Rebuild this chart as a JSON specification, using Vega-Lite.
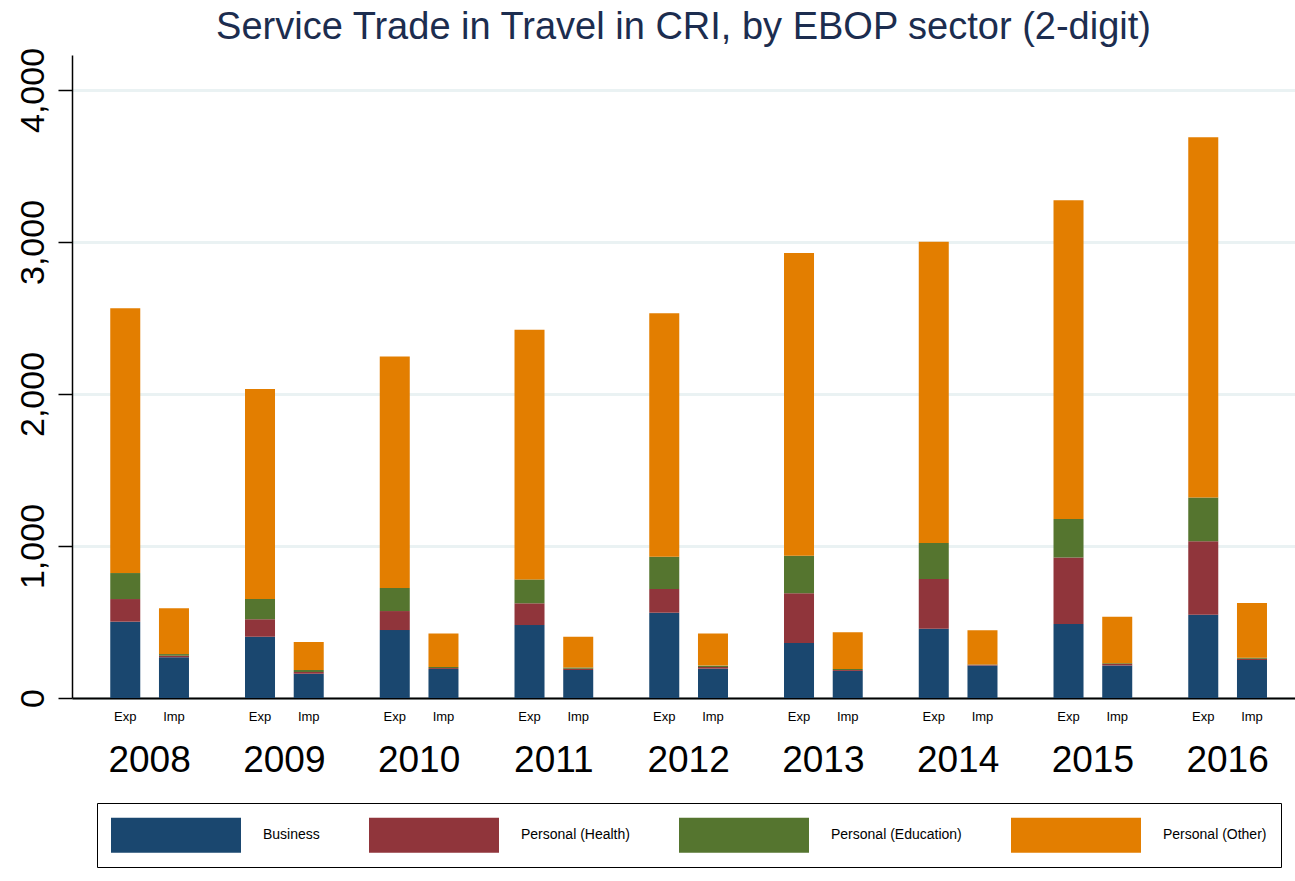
{
  "$schema": "https://vega.github.io/schema/vega-lite/v6.json",
  "width": 1223,
  "height": 643,
  "autosize": {"type": "none"},
  "padding": {"left": 72, "top": 55, "right": 0, "bottom": 183},
  "background": "white",
  "config": {"view": {"stroke": null}, "font": "Liberation Sans"},
  "title": {
    "text": "Service Trade in Travel in CRI, by EBOP sector (2-digit)",
    "fontSize": 38,
    "font": "Liberation Sans",
    "fontWeight": "normal",
    "color": "#1c2d4f",
    "anchor": "middle",
    "frame": "group",
    "offset": 0
  },
  "data": {
    "values": [
      {"year": "2008", "flow": "Exp", "sector": "Business", "k": 1, "value": 502},
      {"year": "2008", "flow": "Exp", "sector": "Personal (Health)", "k": 2, "value": 149},
      {"year": "2008", "flow": "Exp", "sector": "Personal (Education)", "k": 3, "value": 171},
      {"year": "2008", "flow": "Exp", "sector": "Personal (Other)", "k": 4, "value": 1742},
      {"year": "2008", "flow": "Imp", "sector": "Business", "k": 1, "value": 268},
      {"year": "2008", "flow": "Imp", "sector": "Personal (Health)", "k": 2, "value": 10},
      {"year": "2008", "flow": "Imp", "sector": "Personal (Education)", "k": 3, "value": 11},
      {"year": "2008", "flow": "Imp", "sector": "Personal (Other)", "k": 4, "value": 301},
      {"year": "2009", "flow": "Exp", "sector": "Business", "k": 1, "value": 403},
      {"year": "2009", "flow": "Exp", "sector": "Personal (Health)", "k": 2, "value": 115},
      {"year": "2009", "flow": "Exp", "sector": "Personal (Education)", "k": 3, "value": 133},
      {"year": "2009", "flow": "Exp", "sector": "Personal (Other)", "k": 4, "value": 1382},
      {"year": "2009", "flow": "Imp", "sector": "Business", "k": 1, "value": 160},
      {"year": "2009", "flow": "Imp", "sector": "Personal (Health)", "k": 2, "value": 11},
      {"year": "2009", "flow": "Imp", "sector": "Personal (Education)", "k": 3, "value": 13},
      {"year": "2009", "flow": "Imp", "sector": "Personal (Other)", "k": 4, "value": 184},
      {"year": "2010", "flow": "Exp", "sector": "Business", "k": 1, "value": 447},
      {"year": "2010", "flow": "Exp", "sector": "Personal (Health)", "k": 2, "value": 125},
      {"year": "2010", "flow": "Exp", "sector": "Personal (Education)", "k": 3, "value": 152},
      {"year": "2010", "flow": "Exp", "sector": "Personal (Other)", "k": 4, "value": 1522},
      {"year": "2010", "flow": "Imp", "sector": "Business", "k": 1, "value": 191},
      {"year": "2010", "flow": "Imp", "sector": "Personal (Health)", "k": 2, "value": 6},
      {"year": "2010", "flow": "Imp", "sector": "Personal (Education)", "k": 3, "value": 7},
      {"year": "2010", "flow": "Imp", "sector": "Personal (Other)", "k": 4, "value": 221},
      {"year": "2011", "flow": "Exp", "sector": "Business", "k": 1, "value": 480},
      {"year": "2011", "flow": "Exp", "sector": "Personal (Health)", "k": 2, "value": 143},
      {"year": "2011", "flow": "Exp", "sector": "Personal (Education)", "k": 3, "value": 157},
      {"year": "2011", "flow": "Exp", "sector": "Personal (Other)", "k": 4, "value": 1643},
      {"year": "2011", "flow": "Imp", "sector": "Business", "k": 1, "value": 184},
      {"year": "2011", "flow": "Imp", "sector": "Personal (Health)", "k": 2, "value": 9},
      {"year": "2011", "flow": "Imp", "sector": "Personal (Education)", "k": 3, "value": 7},
      {"year": "2011", "flow": "Imp", "sector": "Personal (Other)", "k": 4, "value": 203},
      {"year": "2012", "flow": "Exp", "sector": "Business", "k": 1, "value": 561},
      {"year": "2012", "flow": "Exp", "sector": "Personal (Health)", "k": 2, "value": 156},
      {"year": "2012", "flow": "Exp", "sector": "Personal (Education)", "k": 3, "value": 213},
      {"year": "2012", "flow": "Exp", "sector": "Personal (Other)", "k": 4, "value": 1601},
      {"year": "2012", "flow": "Imp", "sector": "Business", "k": 1, "value": 193},
      {"year": "2012", "flow": "Imp", "sector": "Personal (Health)", "k": 2, "value": 11},
      {"year": "2012", "flow": "Imp", "sector": "Personal (Education)", "k": 3, "value": 9},
      {"year": "2012", "flow": "Imp", "sector": "Personal (Other)", "k": 4, "value": 212},
      {"year": "2013", "flow": "Exp", "sector": "Business", "k": 1, "value": 362},
      {"year": "2013", "flow": "Exp", "sector": "Personal (Health)", "k": 2, "value": 327},
      {"year": "2013", "flow": "Exp", "sector": "Personal (Education)", "k": 3, "value": 247},
      {"year": "2013", "flow": "Exp", "sector": "Personal (Other)", "k": 4, "value": 1992},
      {"year": "2013", "flow": "Imp", "sector": "Business", "k": 1, "value": 178},
      {"year": "2013", "flow": "Imp", "sector": "Personal (Health)", "k": 2, "value": 6},
      {"year": "2013", "flow": "Imp", "sector": "Personal (Education)", "k": 3, "value": 7},
      {"year": "2013", "flow": "Imp", "sector": "Personal (Other)", "k": 4, "value": 241},
      {"year": "2014", "flow": "Exp", "sector": "Business", "k": 1, "value": 455},
      {"year": "2014", "flow": "Exp", "sector": "Personal (Health)", "k": 2, "value": 328},
      {"year": "2014", "flow": "Exp", "sector": "Personal (Education)", "k": 3, "value": 236},
      {"year": "2014", "flow": "Exp", "sector": "Personal (Other)", "k": 4, "value": 1982},
      {"year": "2014", "flow": "Imp", "sector": "Business", "k": 1, "value": 214},
      {"year": "2014", "flow": "Imp", "sector": "Personal (Health)", "k": 2, "value": 5},
      {"year": "2014", "flow": "Imp", "sector": "Personal (Education)", "k": 3, "value": 2},
      {"year": "2014", "flow": "Imp", "sector": "Personal (Other)", "k": 4, "value": 224},
      {"year": "2015", "flow": "Exp", "sector": "Business", "k": 1, "value": 487},
      {"year": "2015", "flow": "Exp", "sector": "Personal (Health)", "k": 2, "value": 437},
      {"year": "2015", "flow": "Exp", "sector": "Personal (Education)", "k": 3, "value": 254},
      {"year": "2015", "flow": "Exp", "sector": "Personal (Other)", "k": 4, "value": 2097},
      {"year": "2015", "flow": "Imp", "sector": "Business", "k": 1, "value": 214},
      {"year": "2015", "flow": "Imp", "sector": "Personal (Health)", "k": 2, "value": 10},
      {"year": "2015", "flow": "Imp", "sector": "Personal (Education)", "k": 3, "value": 5},
      {"year": "2015", "flow": "Imp", "sector": "Personal (Other)", "k": 4, "value": 305},
      {"year": "2016", "flow": "Exp", "sector": "Business", "k": 1, "value": 547},
      {"year": "2016", "flow": "Exp", "sector": "Personal (Health)", "k": 2, "value": 484},
      {"year": "2016", "flow": "Exp", "sector": "Personal (Education)", "k": 3, "value": 288},
      {"year": "2016", "flow": "Exp", "sector": "Personal (Other)", "k": 4, "value": 2370},
      {"year": "2016", "flow": "Imp", "sector": "Business", "k": 1, "value": 250},
      {"year": "2016", "flow": "Imp", "sector": "Personal (Health)", "k": 2, "value": 8},
      {"year": "2016", "flow": "Imp", "sector": "Personal (Education)", "k": 3, "value": 7},
      {"year": "2016", "flow": "Imp", "sector": "Personal (Other)", "k": 4, "value": 360}
    ]
  },
  "transform": [
    {"stack": "value", "groupby": ["year", "flow"], "sort": [{"field": "k", "order": "ascending"}], "as": ["v0", "v1"]}
  ],
  "layer": [
    {
      "mark": {"type": "bar"},
      "encoding": {
        "x": {
          "field": "year",
          "type": "nominal",
          "scale": {"type": "band", "paddingInner": 0, "paddingOuter": 0.038, "align": 1},
          "axis": {
            "title": null,
            "labelAngle": 0,
            "labelFontSize": 37,
            "labelFont": "Liberation Sans",
            "labelColor": "black",
            "labelPadding": 62,
            "labelBaseline": "middle",
            "ticks": false,
            "tickSize": 0,
            "domainColor": "black",
            "domainWidth": 2,
            "grid": false
          }
        },
        "xOffset": {
          "field": "flow",
          "type": "nominal",
          "scale": {"paddingInner": 0.384, "paddingOuter": 0.575}
        },
        "y": {
          "field": "v0",
          "type": "quantitative",
          "scale": {"domain": [0, 4230], "nice": false},
          "axis": {
            "title": null,
            "values": [0, 1000, 2000, 3000, 4000],
            "format": ",.0f",
            "labelAngle": -90,
            "labelAlign": "center",
            "labelBaseline": "alphabetic",
            "labelFontSize": 34,
            "labelFont": "Liberation Sans",
            "labelColor": "black",
            "labelPadding": 15,
            "tickSize": 14,
            "tickWidth": 1.5,
            "tickColor": "black",
            "domainColor": "black",
            "domainWidth": 1.5,
            "gridColor": "#eaf2f3",
            "gridWidth": 3
          }
        },
        "y2": {"field": "v1"},
        "color": {
          "field": "sector",
          "type": "nominal",
          "scale": {
            "domain": ["Business", "Personal (Health)", "Personal (Education)", "Personal (Other)"],
            "range": ["#1a476f", "#90353b", "#55752f", "#e37e00"]
          },
          "legend": {
            "title": null,
            "orient": "none",
            "legendX": 25,
            "legendY": 748,
            "direction": "horizontal",
            "symbolType": "M-1,-0.972L6.222,-0.972L6.222,0.972L-1,0.972Z",
            "symbolSize": 1296,
            "symbolStrokeWidth": 0,
            "symbolOpacity": 1,
            "labelFontSize": 14,
            "labelFont": "Liberation Sans",
            "labelColor": "black",
            "labelOffset": 116,
            "columnPadding": 49,
            "padding": 14,
            "strokeColor": "black"
          }
        }
      }
    },
    {
      "transform": [{"filter": "datum.k == 1"}],
      "mark": {"type": "text", "fontSize": 13, "baseline": "alphabetic", "dy": 23, "color": "black", "font": "Liberation Sans"},
      "encoding": {
        "x": {"field": "year", "type": "nominal"},
        "xOffset": {"field": "flow", "type": "nominal"},
        "y": {"datum": 0, "type": "quantitative"},
        "text": {"field": "flow"}
      }
    }
  ]
}
